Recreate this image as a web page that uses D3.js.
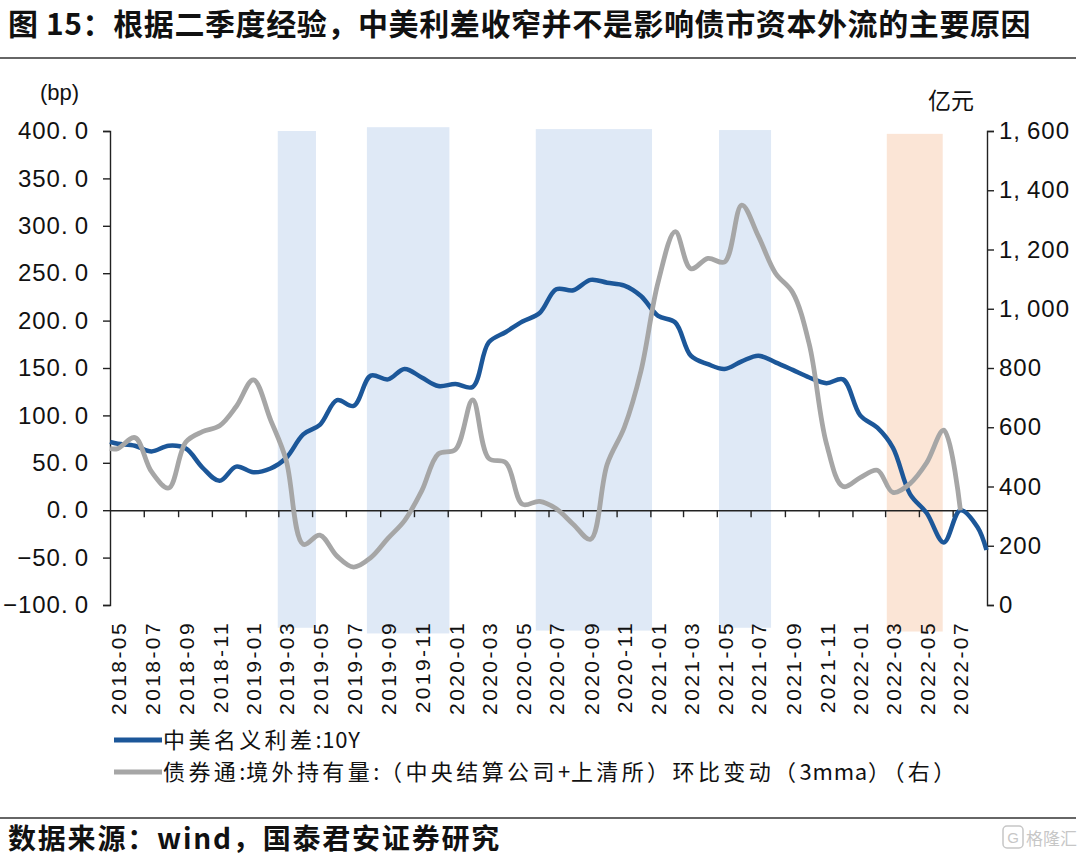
<!DOCTYPE html>
<html><head><meta charset="utf-8">
<script src="https://cdn.jsdelivr.net/npm/d3@7/dist/d3.min.js"></script>
<style>
html,body{margin:0;padding:0;background:#fff;}
svg{display:block;}
</style></head>
<body>
<svg id="chart" width="1080" height="866"></svg>
<script>
// ---------- data ----------
const months = ["2018-05","2018-06","2018-07","2018-08","2018-09","2018-10","2018-11","2018-12",
"2019-01","2019-02","2019-03","2019-04","2019-05","2019-06","2019-07","2019-08","2019-09","2019-10","2019-11","2019-12",
"2020-01","2020-02","2020-03","2020-04","2020-05","2020-06","2020-07","2020-08","2020-09","2020-10","2020-11","2020-12",
"2021-01","2021-02","2021-03","2021-04","2021-05","2021-06","2021-07","2021-08","2021-09","2021-10","2021-11","2021-12",
"2022-01","2022-02","2022-03","2022-04","2022-05","2022-06","2022-07","2022-08"];
// 中美名义利差:10Y (bp), monthly
const spreadValues = [70,68,62,68,65,45,31,46,40,44,55,80,90,116,110,142,138,149,140,131,
133,130,177,188,199,208,233,232,243,240,237,226,205,198,163,154,149,157,163,156,148,140,134,138,
100,87,66,17,-3,-34,0,-18];
const spreadStart = {date:"2018-05-01", value:72};
const spreadEnd = {date:"2022-08-31", value:-42};
// 债券通 境外持有量 环比变动 3mma (亿元), monthly (through 2022-07)
const flowValues = [528,565,450,395,550,585,605,670,760,625,490,205,236,165,128,160,225,285,385,510,
525,692,495,480,340,350,325,272,222,475,600,790,1090,1260,1135,1170,1158,1350,1245,1120,1055,880,
545,400,430,455,380,410,480,590,320];
const flowStart = {date:"2018-05-01", value:528};
// shaded periods [start, end, top(bp), bottom(bp), kind]
const bandStarts = ["2019-02-28","2019-08-08","2020-06-08","2021-05-05","2022-03-04"];
const bandEnds   = ["2019-05-08","2020-01-04","2021-01-04","2021-08-07","2022-06-13"];
const bandTops   = [400,404,402,401,397];
const bandBottoms= [-124,-130,-127,-124,-128];
const bandKinds  = ["blue","blue","blue","blue","orange"];
const leftTicks = [-100,-50,0,50,100,150,200,250,300,350,400];
const rightTicks = [0,200,400,600,800,1000,1200,1400,1600];
const xLabelMonths = months.filter((m,i)=>i%2===0);
const xTickMonths = ["2018-07","2018-09","2018-11","2019-01","2019-03","2019-05","2019-07","2019-09","2019-11",
"2020-01","2020-03","2020-05","2020-07","2020-09","2020-11","2021-01","2021-03","2021-05","2021-07","2021-09","2021-11",
"2022-01","2022-03","2022-05","2022-07"];

const title = "图 15：根据二季度经验，中美利差收窄并不是影响债市资本外流的主要原因";
const leftUnit = "(bp)";
const rightUnit = "亿元";
const legendNames = ["中美名义利差:10Y","债券通:境外持有量:（中央结算公司+上清所）环比变动（3mma）（右）"];
const source = "数据来源：wind，国泰君安证券研究";

// ---------- setup ----------
const parse = d3.timeParse("%Y-%m-%d");
const mid = m => parse(m + "-15");
const first = m => parse(m + "-01");
const svg = d3.select("#chart");
const L = 110, R = 987, T = 131, B = 605;
const cjk = "'Noto Sans CJK SC', sans-serif";
const numFont = "'Liberation Sans', Arial, sans-serif";

const x = d3.scaleTime().domain([parse("2018-05-01"), parse("2022-09-01")]).range([L, R]);
const yL = d3.scaleLinear().domain([-100, 400]).range([B, T]);
const yR = d3.scaleLinear().domain([0, 1600]).range([B, T]);

const spreadData = [{d:parse(spreadStart.date), v:spreadStart.value}]
  .concat(months.map((m,i)=>({d:mid(m), v:spreadValues[i]})))
  .concat([{d:parse(spreadEnd.date), v:spreadEnd.value}]);
const flowData = [{d:parse(flowStart.date), v:flowStart.value}]
  .concat(flowValues.map((v,i)=>({d:mid(months[i]), v})));

// title
svg.append("text").attr("x", 8).attr("y", 35).text(title)
  .attr("font-family", cjk).attr("font-weight", 700)
  .attr("font-size", 30).attr("letter-spacing", 0.6).attr("fill", "#111");
svg.append("line").attr("x1", 0).attr("x2", 1076).attr("y1", 58).attr("y2", 58)
  .attr("stroke", "#333").attr("stroke-width", 1.5);

// bands
const bandColor = {blue:"#dfe9f6", orange:"#fbe5d6"};
svg.append("g").selectAll("rect").data(bandStarts.map((s,i)=>({s:parse(s), e:parse(bandEnds[i]), t:bandTops[i], b:bandBottoms[i], k:bandKinds[i]})))
  .join("rect")
  .attr("x", d=>x(d.s)).attr("width", d=>x(d.e)-x(d.s))
  .attr("y", d=>yL(d.t)).attr("height", d=>yL(d.b)-yL(d.t))
  .attr("fill", d=>bandColor[d.k]);

// helper to widen punctuation gap like the original font
function spaceLabels(sel, gap) {
  sel.each(function(){
    const t = d3.select(this);
    const s = t.text();
    const m = s.match(/^(.*?[.,])(.*)$/);
    if (m) {
      t.text(null);
      t.append("tspan").text(m[1]);
      t.append("tspan").attr("dx", gap).text(m[2]);
    }
  });
}

// left axis
const gL = svg.append("g").attr("transform", `translate(${L},0)`)
  .call(d3.axisLeft(yL).tickValues(leftTicks).tickSize(7).tickPadding(14).tickFormat(d3.format(".1f")));
gL.selectAll("text").attr("font-family", numFont).attr("font-size", 24).attr("fill", "#111")
  .attr("letter-spacing", 1).call(spaceLabels, 6);
gL.selectAll("line,path").attr("stroke", "#222").attr("stroke-width", 1.4);

// right axis
const gR = svg.append("g").attr("transform", `translate(${R},0)`)
  .call(d3.axisRight(yR).tickValues(rightTicks).tickSize(7).tickPadding(5).tickFormat(d3.format(",")));
gR.selectAll("text").attr("font-family", numFont).attr("font-size", 24).attr("fill", "#111")
  .attr("letter-spacing", 1).call(spaceLabels, 6);
gR.selectAll("line,path").attr("stroke", "#222").attr("stroke-width", 1.4);

// x axis at zero
const gX = svg.append("g").attr("transform", `translate(0,${yL(0)})`)
  .call(d3.axisBottom(x).tickValues(xTickMonths.map(first)).tickSize(7).tickSizeOuter(0).tickFormat(""));
gX.selectAll("line,path").attr("stroke", "#222").attr("stroke-width", 1.4);

// x labels
const gXL = svg.append("g").attr("transform", `translate(0,621)`)
  .call(d3.axisBottom(x).tickValues(xLabelMonths.map(mid)).tickSize(0).tickFormat(d3.timeFormat("%Y-%m")));
gXL.select(".domain").remove();
gXL.selectAll("text")
  .attr("transform", "rotate(-90)").attr("text-anchor", "end")
  .attr("x", 0).attr("y", 0).attr("dy", "0.36em")
  .attr("font-family", numFont).attr("font-size", 21).attr("letter-spacing", 2.4).attr("fill", "#111");

// lines
const lineL = d3.line().x(d=>x(d.d)).y(d=>yL(d.v)).curve(d3.curveCatmullRom.alpha(0.5));
const lineR = d3.line().x(d=>x(d.d)).y(d=>yR(d.v)).curve(d3.curveCatmullRom.alpha(0.5));
const blue = "#1c5799", gray = "#a6a6a6";
svg.append("path").datum(spreadData).attr("d", lineL).attr("fill", "none")
  .attr("stroke", blue).attr("stroke-width", 4.5).attr("stroke-linejoin", "round");
svg.append("path").datum(flowData).attr("d", lineR).attr("fill", "none")
  .attr("stroke", gray).attr("stroke-width", 4.8).attr("stroke-linejoin", "round");

// units
svg.append("text").attr("x", 40).attr("y", 100).text(leftUnit)
  .attr("font-family", numFont).attr("font-size", 22).attr("fill", "#111");
svg.append("text").attr("x", 928).attr("y", 109).text(rightUnit)
  .attr("font-family", cjk).attr("font-size", 23).attr("fill", "#111");

// legend: CJK runs spaced wider, Latin runs tight
const legColors = [blue, gray];
const lg = svg.append("g");
legendNames.forEach((n,i)=>{
  const yy = 740 + i*32;
  lg.append("line").attr("x1", 114).attr("x2", 162).attr("y1", yy).attr("y2", yy)
    .attr("stroke", legColors[i]).attr("stroke-width", 5);
  const t = lg.append("text").attr("x", 163).attr("y", yy + 8)
    .attr("font-family", cjk).attr("font-size", 22).attr("fill", "#111");
  const runs = n.match(/[\x20-\x7e]+|[^\x20-\x7e]+/g);
  runs.forEach(r=>{
    const ascii = /^[\x20-\x7e]+$/.test(r);
    t.append("tspan").text(r).attr("letter-spacing", ascii ? 0.8 : 3.4);
  });
});

// footer
svg.append("line").attr("x1", 0).attr("x2", 1076).attr("y1", 818).attr("y2", 818)
  .attr("stroke", "#333").attr("stroke-width", 1.5);
svg.append("text").attr("x", 8).attr("y", 849).text(source)
  .attr("font-family", cjk).attr("font-weight", 700)
  .attr("font-size", 28).attr("letter-spacing", 1.8).attr("fill", "#111");
// watermark
const wm = svg.append("g").attr("opacity", 0.55);
wm.append("rect").attr("x", 1003).attr("y", 826).attr("width", 20).attr("height", 22).attr("rx", 4)
  .attr("fill", "none").attr("stroke", "#999").attr("stroke-width", 1.5);
wm.append("text").attr("x", 1013).attr("y", 843).attr("text-anchor", "middle").text("G")
  .attr("font-family", numFont).attr("font-size", 15).attr("fill", "#999");
wm.append("text").attr("x", 1026).attr("y", 845).text("格隆汇")
  .attr("font-family", cjk).attr("font-size", 17).attr("fill", "#999");
</script>
</body></html>
